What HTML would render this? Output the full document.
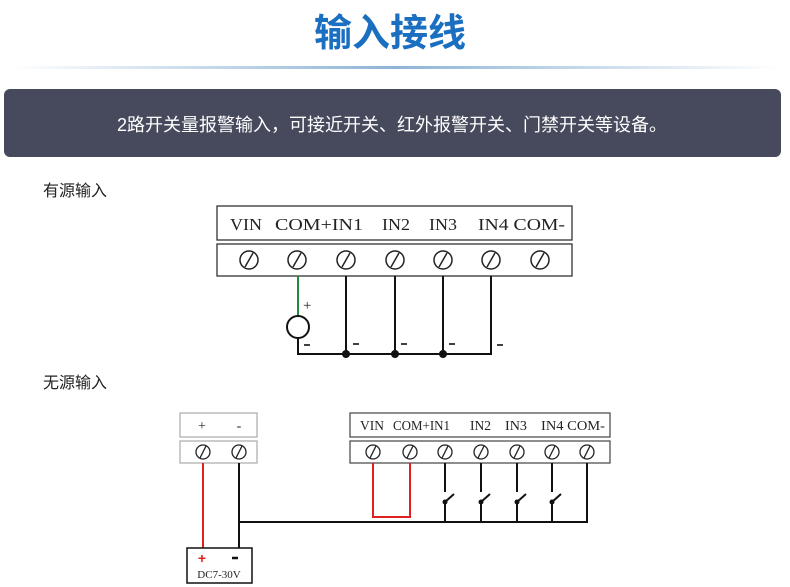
<!DOCTYPE html>
<html><head><meta charset="utf-8"><style>
html,body{margin:0;padding:0;background:#fff;width:790px;height:587px;overflow:hidden}
svg{display:block}
.cjk{font-family:"Liberation Sans","Noto Sans CJK SC",sans-serif}
.sr{font-family:"Liberation Serif","DejaVu Serif",serif;fill:#222}
</style></head><body>
<svg width="790" height="587" viewBox="0 0 790 587" xmlns="http://www.w3.org/2000/svg">
<defs>
<linearGradient id="g" x1="0" x2="1">
<stop offset="0" stop-color="#8fb4d6" stop-opacity="0"/>
<stop offset="0.5" stop-color="#8fb4d6"/>
<stop offset="1" stop-color="#8fb4d6" stop-opacity="0"/>
</linearGradient>
<g id="sc"><circle r="9" fill="#fff" stroke="#222" stroke-width="1.5"/><line x1="-4" y1="7" x2="4" y2="-7" stroke="#222" stroke-width="1.5"/></g>
<g id="ss"><circle r="7" fill="#fff" stroke="#222" stroke-width="1.3"/><line x1="-3" y1="6" x2="3" y2="-6" stroke="#222" stroke-width="1.3"/></g>
</defs>
<text x="390" y="46" text-anchor="middle" class="cjk" font-size="38" font-weight="bold" fill="#1a6fc0">输入接线</text>
<rect x="10" y="66" width="770" height="3" fill="url(#g)"/>
<rect x="4" y="89" width="777" height="68" rx="6" fill="#464a5c"/>
<text x="392" y="131" text-anchor="middle" class="cjk" font-size="18" fill="#fff">2路开关量报警输入，可接近开关、红外报警开关、门禁开关等设备。</text>

<text x="43" y="196" class="cjk" font-size="16" fill="#222">有源输入</text>
<rect x="217" y="206" width="355" height="34" fill="#fff" stroke="#333" stroke-width="1.3"/>
<rect x="217" y="244" width="355" height="32" fill="#fff" stroke="#333" stroke-width="1.3"/>
<g class="sr" font-size="17">
<text x="230" y="230" textLength="32" lengthAdjust="spacingAndGlyphs">VIN</text>
<text x="275" y="230" textLength="88" lengthAdjust="spacingAndGlyphs">COM+IN1</text>
<text x="382" y="230" textLength="28" lengthAdjust="spacingAndGlyphs">IN2</text>
<text x="429" y="230" textLength="28" lengthAdjust="spacingAndGlyphs">IN3</text>
<text x="478" y="230" textLength="87" lengthAdjust="spacingAndGlyphs">IN4 COM-</text>
</g>
<use href="#sc" x="249" y="260"/><use href="#sc" x="297" y="260"/><use href="#sc" x="346" y="260"/><use href="#sc" x="395" y="260"/><use href="#sc" x="443" y="260"/><use href="#sc" x="491" y="260"/><use href="#sc" x="540" y="260"/>
<line x1="298" y1="276" x2="298" y2="316" stroke="#1f8a3a" stroke-width="2"/>
<circle cx="298" cy="327" r="11" fill="#fff" stroke="#111" stroke-width="2"/>
<polyline points="298,338 298,354 491,354 491,276" fill="none" stroke="#111" stroke-width="2"/>
<line x1="346" y1="276" x2="346" y2="354" stroke="#111" stroke-width="2"/>
<line x1="395" y1="276" x2="395" y2="354" stroke="#111" stroke-width="2"/>
<line x1="443" y1="276" x2="443" y2="354" stroke="#111" stroke-width="2"/>
<circle cx="346" cy="354" r="4" fill="#111"/><circle cx="395" cy="354" r="4" fill="#111"/><circle cx="443" cy="354" r="4" fill="#111"/>
<text x="303" y="310" class="sr" font-size="15">+</text>
<g stroke="#111" stroke-width="1.6">
<line x1="304" y1="345" x2="310" y2="345"/><line x1="353" y1="344" x2="359" y2="344"/><line x1="401" y1="344" x2="407" y2="344"/><line x1="449" y1="344" x2="455" y2="344"/><line x1="497" y1="345" x2="503" y2="345"/>
</g>

<text x="43" y="388" class="cjk" font-size="16" fill="#222">无源输入</text>
<rect x="180" y="413" width="77" height="24" fill="#fff" stroke="#aaa" stroke-width="1.2"/>
<rect x="180" y="441" width="77" height="22" fill="#fff" stroke="#aaa" stroke-width="1.2"/>
<text x="202" y="430" text-anchor="middle" class="sr" font-size="14">+</text>
<text x="239" y="430" text-anchor="middle" class="sr" font-size="14">-</text>
<use href="#ss" x="203" y="452"/><use href="#ss" x="239" y="452"/>
<rect x="350" y="413" width="260" height="24" fill="#fff" stroke="#444" stroke-width="1.2"/>
<rect x="350" y="441" width="260" height="22" fill="#fff" stroke="#444" stroke-width="1.2"/>
<g class="sr" font-size="13.5">
<text x="360" y="430" textLength="24" lengthAdjust="spacingAndGlyphs">VIN</text>
<text x="393" y="430" textLength="57" lengthAdjust="spacingAndGlyphs">COM+IN1</text>
<text x="470" y="430" textLength="21" lengthAdjust="spacingAndGlyphs">IN2</text>
<text x="505" y="430" textLength="22" lengthAdjust="spacingAndGlyphs">IN3</text>
<text x="541" y="430" textLength="64" lengthAdjust="spacingAndGlyphs">IN4 COM-</text>
</g>
<use href="#ss" x="373" y="452"/><use href="#ss" x="410" y="452"/><use href="#ss" x="445" y="452"/><use href="#ss" x="481" y="452"/><use href="#ss" x="517" y="452"/><use href="#ss" x="552" y="452"/><use href="#ss" x="587" y="452"/>
<line x1="203" y1="463" x2="203" y2="548" stroke="#e02020" stroke-width="2"/>
<polyline points="373,463 373,517 410,517 410,463" fill="none" stroke="#e02020" stroke-width="2"/>
<line x1="239" y1="463" x2="239" y2="548" stroke="#111" stroke-width="2"/>
<polyline points="239,522 587,522 587,463" fill="none" stroke="#111" stroke-width="2"/>
<g stroke="#111" stroke-width="2" fill="none">
<path d="M445 463V492M445 502V522M445 502L454 494"/>
<path d="M481 463V492M481 502V522M481 502L490 494"/>
<path d="M517 463V492M517 502V522M517 502L526 494"/>
<path d="M552 463V492M552 502V522M552 502L561 494"/>
</g>
<circle cx="445" cy="502" r="2.5" fill="#111"/><circle cx="481" cy="502" r="2.5" fill="#111"/><circle cx="517" cy="502" r="2.5" fill="#111"/><circle cx="552" cy="502" r="2.5" fill="#111"/>
<rect x="187" y="548" width="65" height="35" fill="#fff" stroke="#111" stroke-width="1.5"/>
<text x="202" y="563" text-anchor="middle" font-family="Liberation Sans,sans-serif" font-weight="bold" font-size="14" fill="#e02020">+</text>
<line x1="232" y1="558" x2="238" y2="558" stroke="#111" stroke-width="2.5"/>
<text x="219" y="578" text-anchor="middle" class="sr" font-size="11">DC7-30V</text>
</svg>
</body></html>
